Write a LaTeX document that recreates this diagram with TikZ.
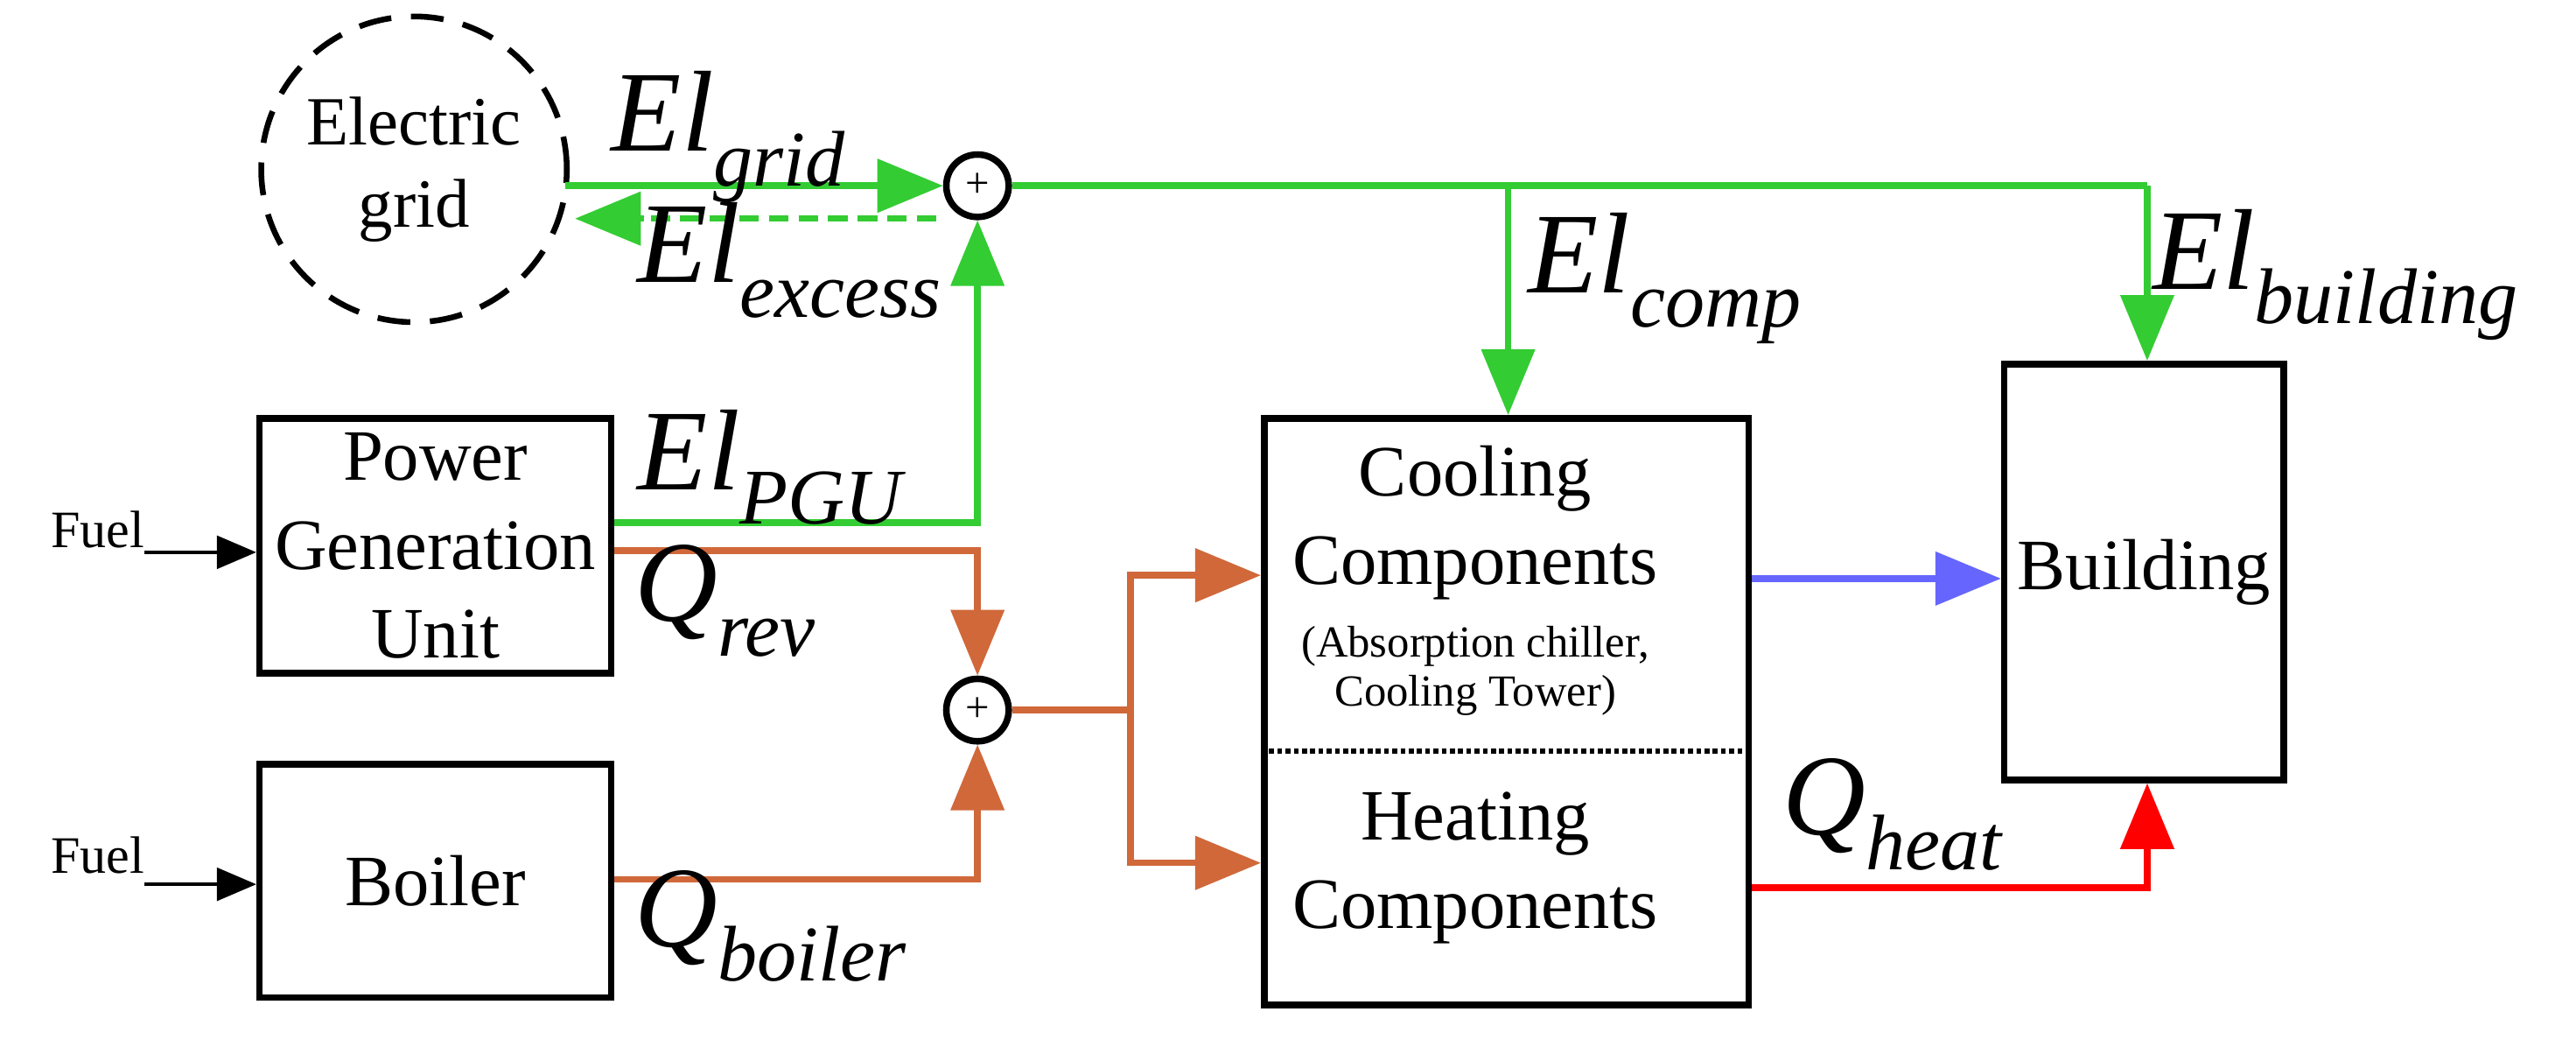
\documentclass[tikz,border=0pt]{standalone}
\usepackage{fontspec}
\setmainfont{Liberation Serif}
\newfontfamily\tnr{Liberation Serif}
\usetikzlibrary{arrows.meta,calc}
\definecolor{gr}{RGB}{51,204,51}
\definecolor{orng}{RGB}{208,104,58}
\definecolor{blu}{RGB}{102,102,255}
\newcommand\flowlbl[2]{\tnr\textit{#1}\raisebox{-0.3em}{\fontsize{48}{48}\selectfont\textit{#2}}}
\tikzset{
 box/.style={draw,line width=4pt,align=center,font=\tnr\fontsize{44}{54}\selectfont},
 sumnode/.style={draw,circle,line width=4pt,minimum size=38pt,inner sep=0pt,font=\tnr\fontsize{26}{26}\selectfont},
 tip/.style={-{Triangle[length=40pt,width=32pt]}},
 flow/.style={line width=4pt},
 big/.style={anchor=base west,inner sep=0pt,font=\tnr\fontsize{70}{70}\selectfont},
 fuel/.style={font=\tnr\fontsize{32}{32}\selectfont,anchor=base east,inner sep=0pt}
}
\begin{document}
\begin{tikzpicture}[x=1pt,y=-1pt]
\useasboundingbox (0,0) rectangle (1568,641);
% nodes
\node[draw,circle,dashed,dash pattern=on 20pt off 12pt,line width=3.5pt,minimum size=186pt,align=center,font=\tnr\fontsize{42}{50}\selectfont] (grid) at (252,103) {Electric\\grid};
\node[sumnode] (s1) at (595,113) {+};
\node[sumnode] (s2) at (595,432) {+};
\node[box,minimum width=214pt,minimum height=155pt] (pgu) at (265,332) {Power\\Generation\\Unit};
\node[box,minimum width=214pt,minimum height=142pt] (boil) at (265,536) {Boiler};
\node[box,minimum width=295pt,minimum height=357pt] (cool) at (917,433) {};
\node[box,minimum width=170pt,minimum height=253pt] (bld) at (1305,348) {Building};
\node[font=\tnr\fontsize{44}{54}\selectfont,align=center] (ct) at (898,318) {Cooling\\Components};
\node[font=\tnr\fontsize{27}{30}\selectfont,align=center] (cs) at (898,408) {(Absorption chiller,\\Cooling Tower)};
\node[font=\tnr\fontsize{44}{54}\selectfont,align=center] (ht) at (898,528) {Heating\\Components};
\draw[line width=3pt,dotted] (cool.west |- 0,457) -- (cool.east |- 0,457);
% fuel
\node[fuel] (f1) at (88,333) {Fuel};
\node[fuel] (f2) at (88,531) {Fuel};
\draw[line width=2pt,-{Triangle[length=24pt,width=20pt]}] (f1.east |- 0,336) -- (pgu.west |- 0,336);
\draw[line width=2pt,-{Triangle[length=24pt,width=20pt]}] (f2.east |- 0,538) -- (boil.west |- 0,538);
% green
\coordinate (gE) at (344,113);
\draw[gr,flow,tip] (gE) -- (s1.west);
\draw[gr,flow,dashed,dash pattern=on 12pt off 6pt] (s1.west |- 0,133) ++(-4,0) -- (390,133);
\draw[gr,flow,tip] (392,133) -- (350,133);
\coordinate (c1) at (918,113);
\coordinate (c2) at (1307,113);
\draw[gr,flow] (s1.east) -- (c2);
\draw[gr,flow,tip] (c1) -- (c1 |- cool.north);
\draw[gr,flow,tip] (c2) -- (c2 |- bld.north);
\draw[gr,flow,tip] (pgu.east |- 0,318) -| (s1.south);
% orange
\draw[orng,flow,tip] (pgu.east |- 0,335) -| (s2.north);
\draw[orng,flow,tip] (boil.east |- 0,535) -| (s2.south);
\coordinate (sp) at (688,432);
\draw[orng,flow] (s2.east) -- (sp);
\draw[orng,flow,tip] (sp) |- (cool.west |- 0,350);
\draw[orng,flow,tip] (sp) |- (cool.west |- 0,525);
% blue, red
\draw[blu,flow,tip] (cool.east |- 0,352) -- (bld.west |- 0,352);
\draw[red,flow,tip] (cool.east |- 0,540) -| (bld.south -| 1307,0);
% labels
\node[big] (lg) at (372,92) {\flowlbl{El}{grid}};
\node[big] (lx) at (388,172) {\flowlbl{El}{excess}};
\node[big] (lp) at (388,298) {\flowlbl{El}{PGU}};
\node[big] (lr) at (386,378) {\flowlbl{Q}{rev}};
\node[big] (lb) at (386,576) {\flowlbl{Q}{boiler}};
\node[big] (lc) at (930,178) {\flowlbl{El}{comp}};
\node[big] (lbu) at (1310,176) {\flowlbl{El}{building}};
\node[big] (lh) at (1085,508) {\flowlbl{Q}{heat}};
\end{tikzpicture}
\end{document}
